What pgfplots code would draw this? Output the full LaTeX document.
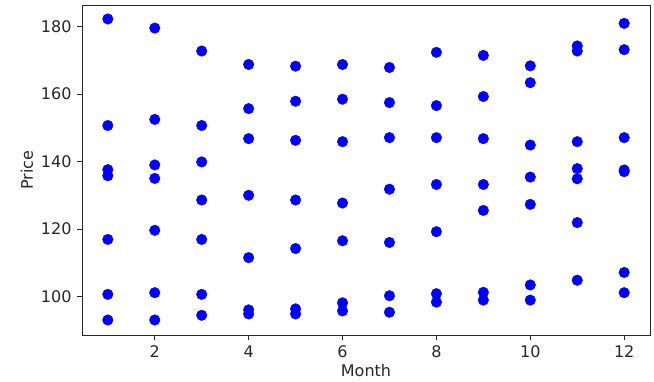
\documentclass[border=0pt]{standalone}
\usepackage{fontspec}
\setmainfont{DejaVu Sans}
\usepackage{pgfplots}
\pgfplotsset{compat=1.18}
\begin{document}
\fontsize{16}{19}\selectfont
\begin{tikzpicture}
\begin{axis}[
  at={(0,0)}, anchor=south west,
  scale only axis, width=568pt, height=330pt,
  xmin=0.45, xmax=12.55, ymin=88.55, ymax=186.45,
  xtick={2,4,6,8,10,12}, ytick={100,120,140,160,180},
  tick align=outside, tick pos=left,
  major tick length=5pt,
  every tick/.style={black!85, line width=0.8pt},
  axis line style={black!85, line width=0.8pt},
  /pgf/number format/assume math mode=true,
  ticklabel style={font=\fontsize{16}{19}\selectfont, text=black!85},
  label style={font=\fontsize{16}{19}\selectfont, text=black!85},
  xlabel={Month}, ylabel={Price},
  xlabel style={yshift=4pt},
  ylabel style={yshift=-3pt},
]
\addplot[only marks, mark=*, mark size=5.3pt, blue, mark options={draw=blue, fill=blue}] coordinates {
(1,182.3) (1,150.7) (1,137.6) (1,135.8) (1,116.9) (1,100.6) (1,93.0)
(2,179.6) (2,152.5) (2,139.0) (2,135.0) (2,119.6) (2,101.1) (2,93.0)
(3,172.8) (3,150.7) (3,139.9) (3,128.6) (3,116.9) (3,100.6) (3,94.4)
(4,168.8) (4,155.7) (4,146.8) (4,130.0) (4,111.5) (4,96.0) (4,94.8)
(5,168.3) (5,157.9) (5,146.3) (5,128.6) (5,114.2) (5,96.3) (5,94.8)
(6,168.8) (6,158.5) (6,145.9) (6,127.7) (6,116.5) (6,98.1) (6,95.7)
(7,167.9) (7,157.5) (7,147.1) (7,131.8) (7,116.0) (7,100.2) (7,95.3)
(8,172.4) (8,156.6) (8,147.1) (8,133.2) (8,119.2) (8,100.8) (8,98.3)
(9,171.5) (9,159.3) (9,146.8) (9,133.2) (9,125.5) (9,101.2) (9,98.9)
(10,168.4) (10,163.4) (10,144.9) (10,135.4) (10,127.3) (10,103.4) (10,98.9)
(11,174.3) (11,172.8) (11,145.9) (11,137.9) (11,134.9) (11,121.9) (11,104.8)
(12,181.0) (12,173.2) (12,147.1) (12,137.5) (12,137.0) (12,107.1) (12,101.1)
};
\end{axis}
\pgfresetboundingbox
\path (-82pt,-46pt) rectangle (572pt,335pt);
\end{tikzpicture}
\end{document}
